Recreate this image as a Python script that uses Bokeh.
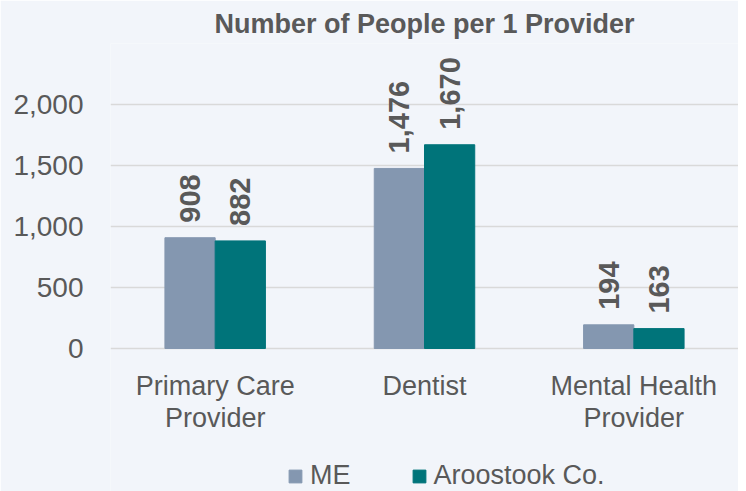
import math
from bokeh.plotting import figure
from bokeh.models import (ColumnDataSource, FactorRange, Range1d, FixedTicker,
                          NumeralTickFormatter, Legend, LegendItem)
from bokeh.transform import dodge
from bokeh.embed import file_html
from bokeh.resources import INLINE
from bokeh.core.properties import value

# ---- data ----
categories = ["Primary Care\nProvider", "Dentist", "Mental Health\nProvider"]
me_values = [908, 1476, 194]
aroostook_values = [882, 1670, 163]
series_names = ["ME", "Aroostook Co."]
y_ticks = [0, 500, 1000, 1500, 2000]
y_max = 2500
title_text = "Number of People per 1 Provider"

BG = "#F2F5FA"
TXT = "#595959"
C_ME = "#8497B0"
C_AR = "#00747A"
FONT = "Liberation Sans"

# layout (pixels)
TOP = 43          # space above the value area
VALUE_H = 305     # height of the 0..y_max band
BELOW_H = 143     # room below zero for category labels and legend
FRAME_H = VALUE_H + BELOW_H
y_min = -y_max * BELOW_H / VALUE_H

lines = [c.split("\n") for c in categories]
source = ColumnDataSource(dict(
    cat=categories,
    me=me_values,
    ar=aroostook_values,
    me_lbl=[f"{v:,}" for v in me_values],
    ar_lbl=[f"{v:,}" for v in aroostook_values],
    line1=[l[0] for l in lines],
    line2=[l[1] if len(l) > 1 else "" for l in lines],
    base=[0] * len(categories),
))

p = figure(x_range=FactorRange(*categories), y_range=Range1d(y_min, y_max),
           frame_width=628, frame_height=FRAME_H,
           min_border_left=110, min_border_right=0,
           min_border_top=TOP, min_border_bottom=0,
           output_backend="svg", toolbar_location=None,
           background_fill_color=BG, border_fill_color=BG,
           outline_line_color=None)

p.title.text = title_text
p.title.align = "center"
p.title.text_font = FONT
p.title.text_font_size = "27px"
p.title.text_font_style = "bold"
p.title.text_color = TXT
p.title.standoff = 10

w = 0.24
r_me = p.vbar(x=dodge("cat", -w / 2, range=p.x_range), top="me", width=w,
              source=source, fill_color=C_ME, line_color=C_ME)
r_ar = p.vbar(x=dodge("cat", w / 2, range=p.x_range), top="ar", width=w,
              source=source, fill_color=C_AR, line_color=C_AR)

for col, lbl, off in (("me", "me_lbl", -w / 2), ("ar", "ar_lbl", w / 2)):
    p.text(x=dodge("cat", off, range=p.x_range), y=col, text=lbl, source=source,
           angle=math.pi / 2, text_align="left", text_baseline="middle",
           y_offset=-15, text_font=value(FONT), text_font_size="29px",
           text_font_style="bold", text_color=TXT)

# category labels, two lines, below the zero line
for col, off in (("line1", 37), ("line2", 69)):
    p.text(x="cat", y="base", text=col, source=source, y_offset=off,
           text_align="center", text_baseline="alphabetic",
           text_font=value(FONT), text_font_size="27px", text_color=TXT)

# axes
p.xaxis.visible = False
p.yaxis.ticker = FixedTicker(ticks=y_ticks)
p.yaxis.formatter = NumeralTickFormatter(format="0,0")
ax = p.yaxis[0]
ax.axis_line_color = None
ax.major_tick_line_color = None
ax.minor_tick_line_color = None
ax.major_tick_out = 0
ax.major_tick_in = 0
ax.minor_tick_out = 0
ax.major_label_text_font = FONT
ax.major_label_text_color = TXT
ax.major_label_text_font_size = "28px"
ax.major_label_standoff = 27

p.xgrid.grid_line_color = None
p.ygrid.ticker = FixedTicker(ticks=y_ticks)
p.ygrid.grid_line_color = "#D9D9D9"
p.ygrid.grid_line_width = 1.5

legend = Legend(items=[LegendItem(label=series_names[0], renderers=[r_me]),
                       LegendItem(label=series_names[1], renderers=[r_ar])],
                orientation="horizontal", location=(177, 0),
                label_text_font=FONT, label_text_font_size="27px",
                label_text_color=TXT, glyph_width=16, glyph_height=16,
                label_standoff=7, spacing=60, padding=0, margin=0,
                background_fill_alpha=0, border_line_alpha=0)
p.add_layout(legend, "center")

open("out.html", "w").write(file_html(p, INLINE))
